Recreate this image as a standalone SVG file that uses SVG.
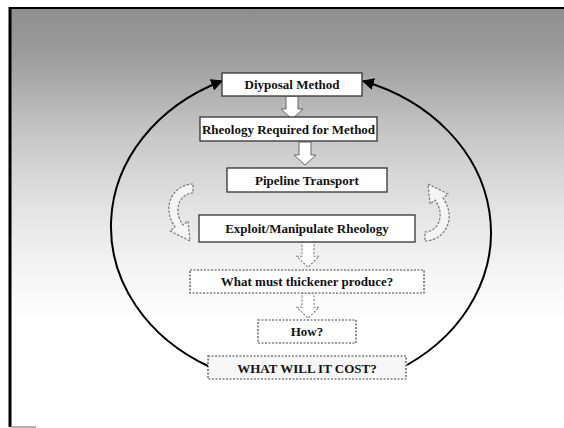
<svg xmlns="http://www.w3.org/2000/svg" width="564" height="428" viewBox="0 0 564 428">
<defs>
<linearGradient id="bg" x1="0" y1="8" x2="0" y2="320" gradientUnits="userSpaceOnUse">
<stop offset="0" stop-color="#8e8e8e"/>
<stop offset="0.15" stop-color="#9c9c9c"/>
<stop offset="0.4" stop-color="#c6c6c6"/>
<stop offset="0.65" stop-color="#e4e4e4"/>
<stop offset="0.85" stop-color="#f5f5f5"/>
<stop offset="1" stop-color="#ffffff"/>
</linearGradient>
<marker id="ah" viewBox="0 0 10 10" refX="9" refY="5" markerWidth="6" markerHeight="6" orient="auto" markerUnits="strokeWidth">
<path d="M0,0 L10,5 L0,10 Z" fill="#000"/>
</marker>
<path id="blk" d="M-6,0 L6,0 L6,13 L11,13 L0,23 L-11,13 L-6,13 Z"/>
<path id="curv" d="M193,184 C175,184 160,205 175,227 L170,231 L190,241 L188,221 L183,225 C172,210 180,193 193,193 Z"/>
</defs>
<style>
.box{fill:#fff;stroke:#333;stroke-width:1.3}
.dbox{fill:#fff;stroke:#444;stroke-width:1.2;stroke-dasharray:2 1.5}
.t{font-family:"Liberation Serif","Times New Roman",serif;font-weight:bold;font-size:13px;fill:#111;text-anchor:middle}
.arc{fill:none;stroke:#000;stroke-width:2}
.barrow{fill:#fff;stroke:#666;stroke-width:1}
.darrow{fill:#fff;stroke:#777;stroke-width:1;stroke-dasharray:2 1.5}
.side{fill:#f4f4f4;stroke:#777;stroke-width:1.2;stroke-dasharray:2.5 1.5}
</style>
<rect x="10" y="8" width="554" height="312" fill="url(#bg)"/>
<path d="M10,7 L10,427" stroke="#000" stroke-width="3" fill="none"/>
<path d="M9,8 L564,8" stroke="#000" stroke-width="2" fill="none"/>
<path d="M11,427 L36,427" stroke="#999" stroke-width="1.5" fill="none"/>
<g id="connectors">
<path class="arc" d="M210,367 A190,160 0 0 1 222,81" marker-end="url(#ah)"/>
<path class="arc" d="M407,365 A190,160 0 0 0 363,81" marker-end="url(#ah)"/>
<use href="#blk" class="barrow" transform="translate(292,96)"/>
<use href="#blk" class="barrow" transform="translate(305,142)"/>
<use href="#blk" class="darrow" transform="translate(308,242) scale(1,1.1)"/>
<use href="#blk" class="darrow" transform="translate(308,293) scale(1,1.1)"/>
<use href="#curv" class="side"/>
<use href="#curv" class="side" transform="translate(618,425) scale(-1,-1)"/>
</g>
<g id="n1"><rect class="box" x="222" y="73" width="140" height="23"/><text class="t" x="292" y="89">Diyposal Method</text></g>
<g id="n2"><rect class="box" x="200" y="117" width="177" height="24"/><text class="t" x="288.5" y="133.5">Rheology Required for Method</text></g>
<g id="n3"><rect class="box" x="227" y="168" width="160" height="24"/><text class="t" x="307" y="184.5">Pipeline Transport</text></g>
<g id="n4"><rect class="box" x="199" y="215" width="216" height="27" style="stroke-dasharray:none"/><text class="t" x="307" y="233">Exploit/Manipulate Rheology</text></g>
<g id="n5"><rect class="dbox" x="190" y="270" width="234" height="23"/><text class="t" x="307" y="286">What must thickener produce?</text></g>
<g id="n6"><rect class="dbox" x="258" y="320" width="98" height="23"/><text class="t" x="307" y="336">How?</text></g>
<g id="n7"><rect class="dbox" x="208" y="356" width="198" height="23" style="fill:#f6f6f6"/><text class="t" x="307" y="372.5">WHAT WILL IT COST?</text></g>
</svg>
